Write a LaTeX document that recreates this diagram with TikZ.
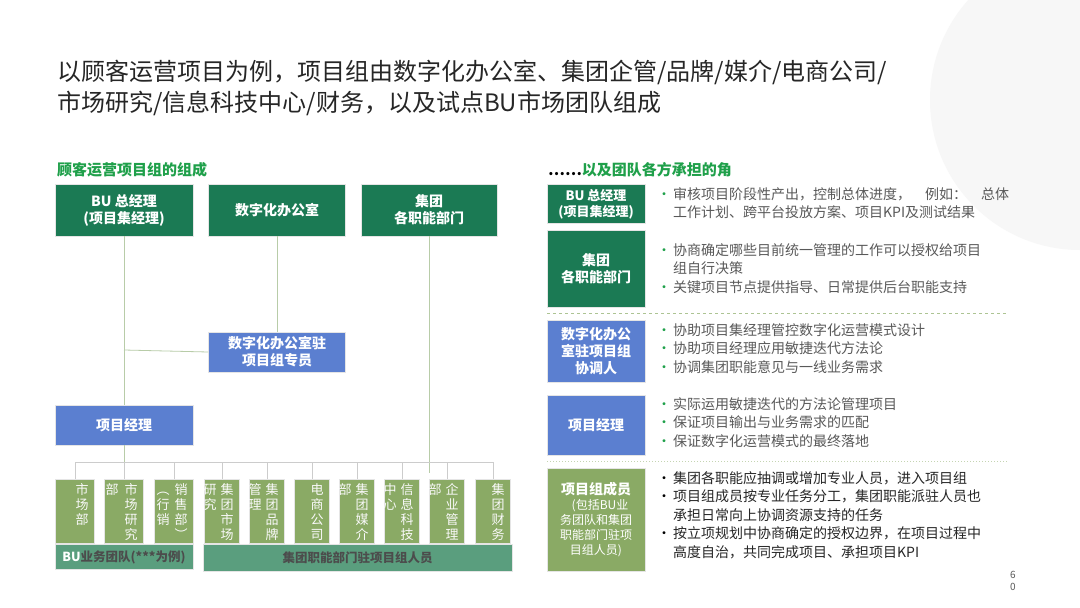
\documentclass[tikz,border=0pt]{standalone}
\usepackage{fontspec}
\setmainfont{Noto Sans CJK SC}
\definecolor{dg}{HTML}{1B7A54}
\definecolor{bl}{HTML}{5B7FD0}
\definecolor{ol}{HTML}{8AAA65}
\definecolor{tl}{HTML}{5A9E7E}
\definecolor{tx}{HTML}{595959}
\definecolor{hg}{HTML}{1FA04A}
\definecolor{ln}{HTML}{B8CCA8}
\begin{document}
\begin{tikzpicture}[x=1pt,y=-1pt,
 box/.style={draw=white!80!gray,line width=0.6pt,inner sep=0pt,text=white,font=\fontsize{14}{17}\selectfont\bfseries,align=center},
 sm/.style={box,fill=ol,font=\fontsize{13}{15}\selectfont,text=white!95!gray},
 con/.style={draw=ln,line width=0.8pt},
 bul/.style={anchor=north west,text=tx,font=\fontsize{14}{18.5}\selectfont,align=left,inner sep=0pt}]
\useasboundingbox (0,0) rectangle (1080,608);
\fill[white] (0,0) rectangle (1080,608);
\fill[gray!6] (1080,100) circle (150);
\node[anchor=west,text=black!85,font=\fontsize{24}{30}\selectfont,inner sep=0] (t1) at (57,72) {以顾客运营项目为例，项目组由数字化办公室、集团企管/品牌/媒介/电商公司/};
\node[anchor=west,text=black!85,font=\fontsize{24}{30}\selectfont,inner sep=0] (t2) at (57,103) {市场研究/信息科技中心/财务，以及试点BU市场团队组成};
\node[anchor=west,text=hg,font=\fontsize{15}{18}\selectfont\bfseries,inner sep=0] (h1) at (57,170) {顾客运营项目组的组成};
\node[anchor=west,font=\fontsize{12}{14}\selectfont\bfseries,inner sep=0] (d1) at (56,189) {……};
% top boxes
\node[box,fill=dg,minimum width=138pt,minimum height=52pt] (bu) at (124,210) {BU 总经理\\(项目集经理)};
\node[box,fill=dg,minimum width=137pt,minimum height=52pt] (dig) at (277,210) {数字化办公室};
\node[box,fill=dg,minimum width=136pt,minimum height=52pt] (grp) at (429,210) {集团\\各职能部门};
\node[box,fill=bl,minimum width=137pt,minimum height=40pt] (dz) at (277,352) {数字化办公室驻\\项目组专员};
\node[box,fill=bl,minimum width=138pt,minimum height=40pt] (pm) at (124,425) {项目经理};
% small boxes
\foreach \n/\x/\w/\t in {a/75/39/{市\\场\\部},b/124/39/{部\hspace{6pt}市\\\hspace{19pt}场\\\hspace{19pt}研\\\hspace{19pt}究},c/174/39/{︵\hspace{5pt}销\\行\hspace{5pt}售\\销\hspace{5pt}部\\︶\hspace{18pt}},d/222/35/{研\hspace{4pt}集\\究\hspace{4pt}团\\\hspace{18pt}市\\\hspace{18pt}场},e/267/35/{管\hspace{4pt}集\\理\hspace{4pt}团\\\hspace{18pt}品\\\hspace{18pt}牌},f/312/35/{电\\商\\公\\司},g/357/35/{部\hspace{4pt}集\\\hspace{18pt}团\\\hspace{18pt}媒\\\hspace{18pt}介},h/402/35/{中\hspace{4pt}信\\心\hspace{4pt}息\\\hspace{18pt}科\\\hspace{18pt}技},i/447/35/{部\hspace{4pt}企\\\hspace{18pt}业\\\hspace{18pt}管\\\hspace{18pt}理},j/493/35/{集\\团\\财\\务}}
 {\node[sm,minimum width=\w pt,minimum height=64pt,anchor=north] (s\n) at (\x,479) {};
  \node[anchor=north east,text=white!95!gray,font=\fontsize{13}{15}\selectfont,align=right,inner sep=0] at ([xshift=-6pt,yshift=-4pt]s\n.north east) {\t};}
\node[box,fill=tl,minimum width=138pt,minimum height=25pt,font=\fontsize{12.5}{15}\selectfont\bfseries,text=black!70] (bar1) at (124,557) {\textcolor{white}{BU}业务团队(***为例)};
\node[box,fill=tl,minimum width=309pt,minimum height=27pt,font=\fontsize{12.5}{15}\selectfont\bfseries,text=black!70] (bar2) at (357.5,558) {集团职能部门驻项目组人员};
% connectors
\coordinate (busl) at (75,462); \coordinate (busr) at (493,462);
\draw[con] (bu.south) -- (pm.north);
\draw[con] (pm.south) -- (sb.north);
\draw[con] (dig.south) -- (dz.north);
\draw[con] (124,350) -- (dz.west);
\draw[con] (grp.south) -- (429,473);
\draw[con,draw=gray!40] (busl) -- (busr);
\foreach \n in {a,b,c,d,e,f,g,h,i,j} \draw[con,draw=gray!40] (s\n.north|-busl) -- (s\n.north);
% right side
\node[anchor=west,text=hg,font=\fontsize{15}{18}\selectfont\bfseries,inner sep=0] (h2) at (548,170) {\textcolor{black}{……}以及团队各方承担的角};
\node[box,fill=dg,minimum width=98pt,minimum height=39pt,font=\fontsize{13}{16}\selectfont\bfseries] (r1) at (596,204) {BU 总经理\\(项目集经理)};
\node[box,fill=dg,minimum width=98pt,minimum height=77pt] (r2) at (596,269) {集团\\各职能部门};
\node[box,fill=bl,minimum width=98pt,minimum height=62pt] (r3) at (596,351) {数字化办公\\室驻项目组\\协调人};
\node[box,fill=bl,minimum width=98pt,minimum height=60pt] (r4) at (596,425) {项目经理};
\node[box,fill=ol,minimum width=98pt,minimum height=103pt,font=\fontsize{12}{15}\selectfont] (r5) at (596,520) {\textbf{\fontsize{14}{17}\selectfont 项目组成员}\\\hspace{8pt}(包括BU业\\务团队和集团\\职能部门驻项\\目组人员)};
\draw[ol!70,dashed,line width=0.8pt] (547,313) -- (1008,313);
\draw[ol!50,dotted,line width=1pt] (547,461) -- (1008,461);
\def\gb{\makebox[16pt][l]{\textcolor{hg}{•}}}
\def\kb{\makebox[16pt][l]{\textcolor{black}{•}}}
\def\ind{\hspace*{16pt}}
\node[bul] (b1) at (657,187) {\gb 审核项目阶段性产出，控制总体进度，\hspace{1em}例如：\hspace{1em}总体\\\ind 工作计划、跨平台投放方案、项目KPI及测试结果};
\node[bul] (b2) at (657,243) {\gb 协商确定哪些目前统一管理的工作可以授权给项目\\\ind 组自行决策\\\gb 关键项目节点提供指导、日常提供后台职能支持};
\node[bul] (b3) at (657,323) {\gb 协助项目集经理管控数字化运营模式设计\\\gb 协助项目经理应用敏捷迭代方法论\\\gb 协调集团职能意见与一线业务需求};
\node[bul] (b4) at (657,397) {\gb 实际运用敏捷迭代的方法论管理项目\\\gb 保证项目输出与业务需求的匹配\\\gb 保证数字化运营模式的最终落地};
\node[bul,text=black!85] (b5) at (657,471) {\kb 集团各职能应抽调或增加专业人员，进入项目组\\\kb 项目组成员按专业任务分工，集团职能派驻人员也\\\ind 承担日常向上协调资源支持的任务\\\kb 按立项规划中协商确定的授权边界，在项目过程中\\\ind 高度自治，共同完成项目、承担项目KPI};
\node[text=tx,font=\fontsize{10}{12}\selectfont,align=center,inner sep=0] (pg) at (1013,581) {6\\0};
\end{tikzpicture}
\end{document}
